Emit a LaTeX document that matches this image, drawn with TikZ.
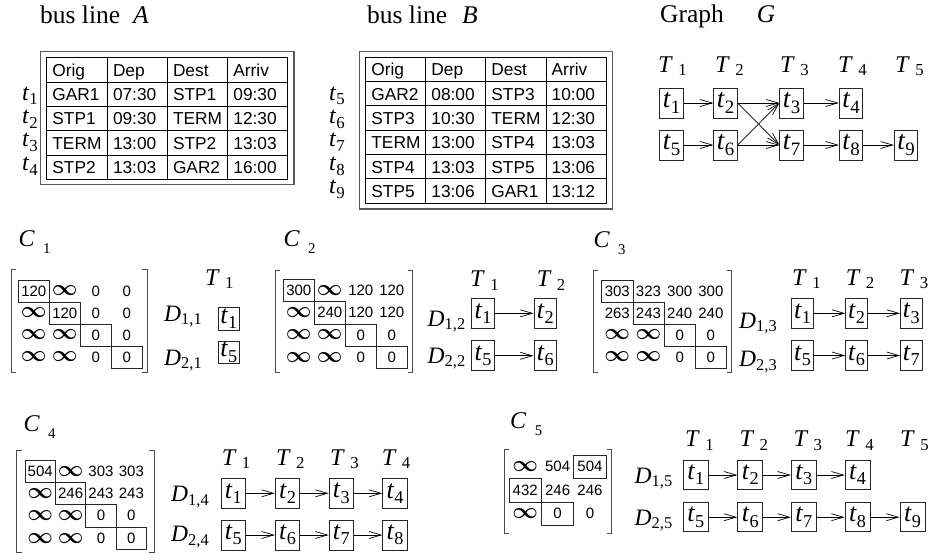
\documentclass[tikz,border=0pt]{standalone}
\usepackage{fontspec}
\usepackage{amsmath}
\usepackage{graphicx}
\setmainfont{Liberation Serif}
\newfontfamily\hv{Liberation Sans}
\usetikzlibrary{arrows.meta}
\makeatletter
\newcommand{\subs}[2][0.2]{\raisebox{-#1em}{\fontsize{\fpeval{0.7*\f@size}}{1}\selectfont #2}}
\newcommand{\subsC}[1]{\raisebox{-0.28em}{\fontsize{\fpeval{0.62*\f@size}}{1}\selectfont #1}}
\makeatother
\newcommand{\tv}[1]{\textit{t}\subs{#1}}
\newcommand{\Tv}[1]{\textit{T}\kern0.22em\subs[0.14]{#1}}
\newcommand{\Dv}[1]{\textit{D}\subs[0.14]{#1}}
\newcommand{\Cv}[1]{\textit{C}\kern0.35em\subsC{#1}}
\newcommand{\infy}{\scalebox{1.55}{$\boldsymbol{\infty}$}}
\tikzset{
  lbl/.style={inner sep=0pt, anchor=base west},
  ttl/.style={lbl, font=\fontsize{25.5}{25.5}\selectfont},
  cell/.style={lbl, font=\hv\fontsize{17.3}{17.3}\selectfont},
  rowl/.style={lbl, font=\fontsize{24}{24}\selectfont},
  Tl/.style={lbl, font=\fontsize{24}{24}\selectfont},
  Dl/.style={lbl, font=\fontsize{23.5}{23.5}\selectfont},
  Cl/.style={lbl, font=\fontsize{24}{24}\selectfont},
  tbox/.style={draw=black!85, line width=0.8pt, inner sep=0pt, font=\fontsize{26}{26}\selectfont},
  num/.style={inner sep=0pt, font=\hv\fontsize{15}{15}\selectfont},
  boxed/.style={draw=black!85, line width=0.8pt},
  arr/.style={-{Straight Barb[length=12pt,width=7pt]}, line width=0.7pt},
  brk/.style={draw=black!70, line width=0.9pt},
  grid/.style={line width=0.9pt},
  frame/.style={draw=black!65, line width=1.3pt}
}
\begin{document}
\begin{tikzpicture}[x=1pt,y=-1pt]
\useasboundingbox[fill=white] (0,0) rectangle (929,558);

% ---------- titles ----------
\node[ttl] (titleA) at (40,23) {bus line\hspace{13pt}\textit{A}};
\node[ttl] (titleB) at (367,23) {bus line\hspace{15pt}\textit{B}};
\node[ttl] (titleG) at (660,22) {Graph\hspace{33pt}\textit{G}};

% ---------- table A ----------
\draw[frame] (40.7,51.7) rectangle (294,184.3);
\draw[grid] (46.7,57.3) rectangle (287.3,179);
\foreach \xx in {107.3,167.3,227.7} \draw[grid] (\xx,57.3) -- (\xx,179);
\foreach \yy in {82.3,106.7,130.7,155} \draw[grid] (46.7,\yy) -- (287.3,\yy);
\foreach \r/\a/\b/\c/\d in {0/Orig/Dep/Dest/Arriv,1/GAR1/07:30/STP1/09:30,2/STP1/09:30/TERM/12:30,3/TERM/13:00/STP2/13:03,4/STP2/13:03/GAR2/16:00}{
  \node[cell] (A-\r-1) at (52.2,{69.8+24.3*\r+6.3}) {\a};
  \node[cell] (A-\r-2) at (112.8,{69.8+24.3*\r+6.3}) {\b};
  \node[cell] (A-\r-3) at (172.8,{69.8+24.3*\r+6.3}) {\c};
  \node[cell] (A-\r-4) at (233.2,{69.8+24.3*\r+6.3}) {\d};
}
\foreach \i/\k in {1/0,2/1,3/2,4/3}
  \node[rowl] (rA\i) at (22,{100+23.4*\k}) {\tv{\i}};

% ---------- table B ----------
\draw[frame] (359.3,51.7) rectangle (612.3,209);
\draw[grid] (365.7,57.3) rectangle (606,203.1);
\foreach \xx in {425.7,485.7,546} \draw[grid] (\xx,57.3) -- (\xx,203.1);
\foreach \yy in {81.6,105.9,130.2,154.5,178.8} \draw[grid] (365.7,\yy) -- (606,\yy);
\foreach \r/\a/\b/\c/\d in {0/Orig/Dep/Dest/Arriv,1/GAR2/08:00/STP3/10:00,2/STP3/10:30/TERM/12:30,3/TERM/13:00/STP4/13:03,4/STP4/13:03/STP5/13:06,5/STP5/13:06/GAR1/13:12}{
  \node[cell] (B-\r-1) at (371.2,{69.5+24.3*\r+6.3}) {\a};
  \node[cell] (B-\r-2) at (431.2,{69.5+24.3*\r+6.3}) {\b};
  \node[cell] (B-\r-3) at (491.2,{69.5+24.3*\r+6.3}) {\c};
  \node[cell] (B-\r-4) at (551.5,{69.5+24.3*\r+6.3}) {\d};
}
\foreach \i/\k in {5/0,6/1,7/2,8/3,9/4}
  \node[rowl] (rB\i) at (329,{100+23.4*\k}) {\tv{\i}};

% ---------- graph G ----------
\foreach \i/\xx in {1/658,2/715,3/780,4/838,5/895}
  \node[Tl] (gT\i) at (\xx,72) {\Tv{\i}};
\tikzset{gb/.style={tbox, minimum width=23.5pt, minimum height=30pt, font=\fontsize{27}{27}\selectfont}}
\node[gb] (g1) at (671.5,103) {\tv{1}};
\node[gb] (g2) at (725.5,103) {\tv{2}};
\node[gb] (g3) at (791.5,103) {\tv{3}};
\node[gb] (g4) at (851,103) {\tv{4}};
\node[gb] (g5) at (671.5,145) {\tv{5}};
\node[gb] (g6) at (725.5,145) {\tv{6}};
\node[gb] (g7) at (791.5,145) {\tv{7}};
\node[gb] (g8) at (851,145) {\tv{8}};
\node[gb] (g9) at (906,145) {\tv{9}};
\draw[arr] (g1) -- (g2);
\draw[arr] (g2.east) -- (g3.west);
\draw[arr] (g2.east) -- (g7.west);
\draw[arr] (g6.east) -- (g3.west);
\draw[arr] (g6.east) -- (g7.west);
\draw[arr] (g3) -- (g4);
\draw[arr] (g5) -- (g6);
\draw[arr] (g7) -- (g8);
\draw[arr] (g8) -- (g9);

% ---------- C1 ----------
\node[Cl] (C1) at (18.3,246.5) {\Cv{1}};
\draw[brk] (16,269) -- (11,269) -- (11,372) -- (16,372);
\draw[brk] (142,269) -- (147,269) -- (147,372) -- (142,372);
\foreach \r/\c/\v in {1/1/120,1/2/\infy,1/3/0,1/4/0,
                      2/1/\infy,2/2/120,2/3/0,2/4/0,
                      3/1/\infy,3/2/\infy,3/3/0,3/4/0,
                      4/1/\infy,4/2/\infy,4/3/0,4/4/0}
  \node[num] (m1-\r-\c) at ({18.3+31*(\c-0.5)},{280+22*(\r-0.5)}) {\v};
\foreach \k in {1,2,3,4}
  \draw[boxed] ({18.3+31*(\k-1)},{280+22*(\k-1)}) rectangle ++(31,22);
\node[Tl] (c1T1) at (205,285) {\Tv{1}};
\node[Dl] (c1D1) at (164,321.7) {\Dv{1,1}};
\node[Dl] (c1D2) at (164,365) {\Dv{2,1}};
\tikzset{b1/.style={tbox, minimum width=21pt, minimum height=22.7pt}}
\node[b1] (c1b1) at (228.8,318.7) {\tv{1}};
\node[b1] (c1b5) at (228.8,352.3) {\tv{5}};

% ---------- C2 ----------
\node[Cl] (C2) at (283.3,246.7) {\Cv{2}};
\draw[brk] (280,270) -- (275,270) -- (275,372) -- (280,372);
\draw[brk] (407.7,270) -- (412.7,270) -- (412.7,372) -- (407.7,372);
\foreach \r/\c/\v in {1/1/300,1/2/\infy,1/3/120,1/4/120,
                      2/1/\infy,2/2/240,2/3/120,2/4/120,
                      3/1/\infy,3/2/\infy,3/3/0,3/4/0,
                      4/1/\infy,4/2/\infy,4/3/0,4/4/0}
  \node[num] (m2-\r-\c) at ({283.3+31*(\c-0.5)},{279.5+22.2*(\r-0.5)}) {\v};
\foreach \k in {1,2,3,4}
  \draw[boxed] ({283.3+31*(\k-1)},{279.5+22.2*(\k-1)}) rectangle ++(31,22.2);
\node[Tl] (c2T1) at (470,286.7) {\Tv{1}};
\node[Tl] (c2T2) at (536.7,286.7) {\Tv{2}};
\node[Dl] (c2D1) at (427.5,326.7) {\Dv{1,2}};
\node[Dl] (c2D2) at (427.5,363.3) {\Dv{2,2}};
\tikzset{b2/.style={tbox, minimum width=22.7pt, minimum height=30pt}}
\node[b2] (c2b1) at (483,313.3) {\tv{1}};
\node[b2] (c2b2) at (545.3,313.3) {\tv{2}};
\node[b2] (c2b5) at (483,355.8) {\tv{5}};
\node[b2] (c2b6) at (545.3,355.8) {\tv{6}};
\draw[arr] (c2b1) -- (c2b2);
\draw[arr] (c2b5) -- (c2b6);

% ---------- C3 ----------
\node[Cl] (C3) at (593.3,247.5) {\Cv{3}};
\draw[brk] (598.3,270) -- (593.3,270) -- (593.3,372) -- (598.3,372);
\draw[brk] (726.7,270) -- (731.7,270) -- (731.7,372) -- (726.7,372);
\foreach \r/\c/\v in {1/1/303,1/2/323,1/3/300,1/4/300,
                      2/1/263,2/2/243,2/3/240,2/4/240,
                      3/1/\infy,3/2/\infy,3/3/0,3/4/0,
                      4/1/\infy,4/2/\infy,4/3/0,4/4/0}
  \node[num] (m3-\r-\c) at ({601.7+31.2*(\c-0.5)},{280+22*(\r-0.5)}) {\v};
\foreach \k in {1,2,3,4}
  \draw[boxed] ({601.7+31.2*(\k-1)},{280+22*(\k-1)}) rectangle ++(31.2,22);
\node[Tl] (c3T1) at (792,285) {\Tv{1}};
\node[Tl] (c3T2) at (845.7,285) {\Tv{2}};
\node[Tl] (c3T3) at (899.5,285) {\Tv{3}};
\node[Dl] (c3D1) at (739,328.3) {\Dv{1,3}};
\node[Dl] (c3D2) at (739,366.7) {\Dv{2,3}};
\tikzset{b3/.style={tbox, minimum width=21.6pt, minimum height=30pt}}
\node[b3] (c3b1) at (802.5,313.3) {\tv{1}};
\node[b3] (c3b2) at (856.5,313.3) {\tv{2}};
\node[b3] (c3b3) at (911.2,313.3) {\tv{3}};
\node[b3] (c3b5) at (802.5,355.5) {\tv{5}};
\node[b3] (c3b6) at (856.5,355.5) {\tv{6}};
\node[b3] (c3b7) at (911.2,355.5) {\tv{7}};
\draw[arr] (c3b1) -- (c3b2);
\draw[arr] (c3b2) -- (c3b3);
\draw[arr] (c3b5) -- (c3b6);
\draw[arr] (c3b6) -- (c3b7);

% ---------- C4 ----------
\node[Cl] (C4) at (23.3,431.7) {\Cv{4}};
\draw[brk] (21.7,450) -- (16.7,450) -- (16.7,552) -- (21.7,552);
\draw[brk] (149,450) -- (154,450) -- (154,552) -- (149,552);
\foreach \r/\c/\v in {1/1/504,1/2/\infy,1/3/303,1/4/303,
                      2/1/\infy,2/2/246,2/3/243,2/4/243,
                      3/1/\infy,3/2/\infy,3/3/0,3/4/0,
                      4/1/\infy,4/2/\infy,4/3/0,4/4/0}
  \node[num] (m4-\r-\c) at ({25+30.4*(\c-0.5)},{460+22.3*(\r-0.5)}) {\v};
\foreach \k in {1,2,3,4}
  \draw[boxed] ({25+30.4*(\k-1)},{460+22.3*(\k-1)}) rectangle ++(30.4,22.3);
\foreach \i/\xx in {1/221.7,2/276,3/330,4/381.7}
  \node[Tl] (c4T\i) at (\xx,465) {\Tv{\i}};
\node[Dl] (c4D1) at (171,501.7) {\Dv{1,4}};
\node[Dl] (c4D2) at (171,541.7) {\Dv{2,4}};
\tikzset{b4/.style={tbox, minimum width=24.5pt, minimum height=30pt}}
\foreach \i/\j/\xx in {1/5/233.2,2/6/287.5,3/7/341.3,4/8/395}{
  \node[b4] (c4b\i) at (\xx,493.3) {\tv{\i}};
  \node[b4] (c4b\j) at (\xx,535) {\tv{\j}};
}
\draw[arr] (c4b1) -- (c4b2);
\draw[arr] (c4b2) -- (c4b3);
\draw[arr] (c4b3) -- (c4b4);
\draw[arr] (c4b5) -- (c4b6);
\draw[arr] (c4b6) -- (c4b7);
\draw[arr] (c4b7) -- (c4b8);

% ---------- C5 ----------
\node[Cl] (C5) at (510,428.3) {\Cv{5}};
\draw[brk] (509,449) -- (504,449) -- (504,533) -- (509,533);
\draw[brk] (606.7,449) -- (611.7,449) -- (611.7,533) -- (606.7,533);
\foreach \r/\c/\v in {1/1/\infy,1/2/504,1/3/504,
                      2/1/432,2/2/246,2/3/246,
                      3/1/\infy,3/2/0,3/3/0}
  \node[num] (m5-\r-\c) at ({509+32.4*(\c-0.5)},{455+23.5*(\r-0.5)}) {\v};
\foreach \r/\c in {1/3,2/1,3/2}
  \draw[boxed] ({509+32.4*(\c-1)},{455+23.5*(\r-1)}) rectangle ++(32.4,23.5);
\foreach \i/\xx in {1/685,2/739.3,3/793.3,4/845,5/900}
  \node[Tl] (c5T\i) at (\xx,446.7) {\Tv{\i}};
\node[Dl] (c5D1) at (634.5,483.3) {\Dv{1,5}};
\node[Dl] (c5D2) at (634.5,525) {\Dv{2,5}};
\tikzset{b5/.style={tbox, minimum width=25pt, minimum height=29pt}}
\foreach \i/\j/\xx in {1/5/695.8,2/6/750.2,3/7/803.8,4/8/857.5}{
  \node[b5] (c5b\i) at (\xx,475) {\tv{\i}};
  \node[b5] (c5b\j) at (\xx,517.2) {\tv{\j}};
}
\node[b5] (c5b9) at (912.5,517.2) {\tv{9}};
\draw[arr] (c5b1) -- (c5b2);
\draw[arr] (c5b2) -- (c5b3);
\draw[arr] (c5b3) -- (c5b4);
\draw[arr] (c5b5) -- (c5b6);
\draw[arr] (c5b6) -- (c5b7);
\draw[arr] (c5b7) -- (c5b8);
\draw[arr] (c5b8) -- (c5b9);
\end{tikzpicture}
\end{document}
